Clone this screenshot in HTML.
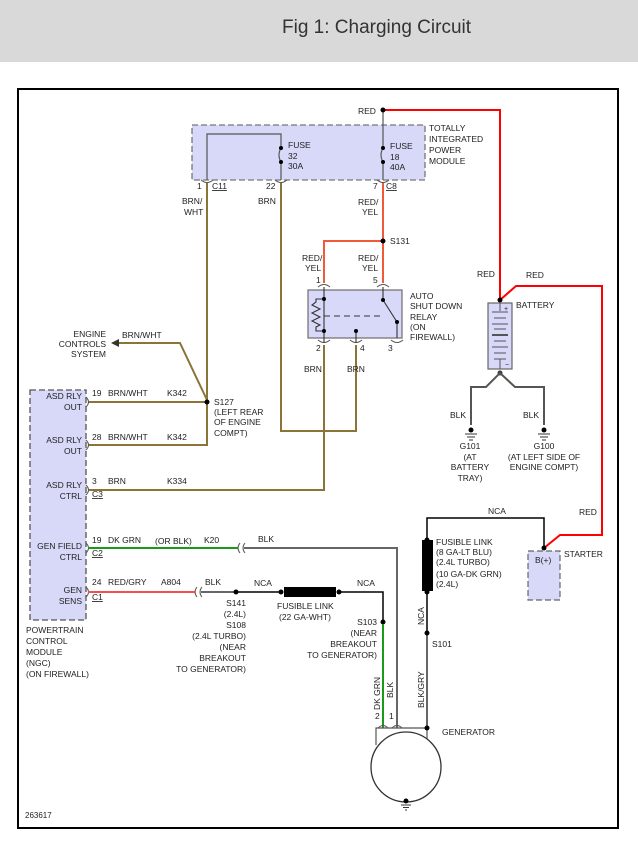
<!DOCTYPE html>
<html><head><meta charset="utf-8"><style>
html,body{margin:0;padding:0;background:#fff;}
svg{display:block;}
text{font-family:"Liberation Sans",sans-serif;font-size:8.5px;fill:#222;}
</style></head><body>
<svg width="638" height="845" viewBox="0 0 638 845" xmlns="http://www.w3.org/2000/svg">
<rect x="0" y="0" width="638" height="62" fill="#d9d9d9"/>
<text x="282" y="33" style="font-size:19px;fill:#333">Fig 1: Charging Circuit</text>
<rect x="18" y="89" width="600" height="739" fill="#fff" stroke="#000" stroke-width="2"/>

<!-- TIPM -->
<rect x="192" y="125" width="233" height="55" fill="#d8d8f8" stroke="#777" stroke-dasharray="6,3" stroke-width="1.3"/>
<polyline points="207,180 207,134 281,134 281,148" fill="none" stroke="#555" stroke-width="1.2"/>
<path d="M281,148 q-4,7 0,14 M383,148 q-4,7 0,14" fill="none" stroke="#555" stroke-width="1.2"/>
<line x1="281" y1="162" x2="281" y2="180" stroke="#555" stroke-width="1.2"/>
<line x1="383" y1="110" x2="383" y2="148" stroke="#555" stroke-width="1.2"/>
<line x1="383" y1="162" x2="383" y2="180" stroke="#555" stroke-width="1.2"/>
<circle cx="281" cy="148" r="2" fill="#000"/><circle cx="281" cy="162" r="2" fill="#000"/>
<circle cx="383" cy="148" r="2" fill="#000"/><circle cx="383" cy="162" r="2" fill="#000"/>
<path d="M201,180 q6,5 12,0 M275,180 q6,5 12,0 M377,180 q6,5 12,0 M318,287 q6,-5 12,0 M377,287 q6,-5 12,0 M318,340 q6,5 12,0 M350,340 q6,5 12,0 M391,340 q6,5 12,0" fill="none" stroke="#555" stroke-width="1"/>
<text x="288" y="148">FUSE</text><text x="288" y="159">32</text><text x="288" y="169">30A</text>
<text x="390" y="149">FUSE</text><text x="390" y="160">18</text><text x="390" y="170">40A</text>
<text x="429" y="131">TOTALLY</text><text x="429" y="142">INTEGRATED</text><text x="429" y="153">POWER</text><text x="429" y="164">MODULE</text>
<text x="197" y="189">1</text><text x="212" y="189" text-decoration="underline">C11</text>
<text x="266" y="189">22</text><text x="373" y="189">7</text><text x="386" y="189" text-decoration="underline">C8</text>

<!-- red main -->
<polyline points="383,110 500,110 500,300" fill="none" stroke="#f00" stroke-width="2"/>
<circle cx="383" cy="110" r="2.5" fill="#000"/>
<text x="358" y="114">RED</text>
<polyline points="500,300 516,286 602,286 602,535 560,535 544,548" fill="none" stroke="#f00" stroke-width="2"/>
<text x="477" y="277">RED</text><text x="526" y="278">RED</text><text x="579" y="515">RED</text>

<!-- brown wires -->
<g stroke="#8b7536" stroke-width="2" fill="none">
<polyline points="207,183 207,445 88,445"/>
<line x1="88" y1="402" x2="207" y2="402"/>
<polyline points="113,343 180,343 207,400"/>
<polyline points="281,183 281,431 356,431 356,345"/>
<polyline points="324,345 324,490 88,490"/>
</g>
<polygon points="111,343 119,339 119,347" fill="#333"/>
<circle cx="207" cy="402" r="2.5" fill="#000"/>
<text x="182" y="204">BRN/</text><text x="184" y="215">WHT</text>
<text x="258" y="204">BRN</text>
<text x="122" y="338">BRN/WHT</text>
<text x="106" y="337" text-anchor="end">ENGINE</text><text x="106" y="347" text-anchor="end">CONTROLS</text><text x="106" y="357" text-anchor="end">SYSTEM</text>
<text x="214" y="405">S127</text><text x="214" y="415">(LEFT REAR</text><text x="214" y="425">OF ENGINE</text><text x="214" y="436">COMPT)</text>
<text x="304" y="372">BRN</text><text x="347" y="372">BRN</text>

<!-- red/yel -->
<g stroke="#f05a3c" stroke-width="2" fill="none">
<line x1="383" y1="183" x2="383" y2="283"/>
<polyline points="383,241 324,241 324,283"/>
</g>
<circle cx="383" cy="241" r="2.5" fill="#000"/>
<text x="390" y="244">S131</text>
<text x="358" y="205">RED/</text><text x="362" y="215">YEL</text>
<text x="302" y="261">RED/</text><text x="305" y="271">YEL</text>
<text x="358" y="261">RED/</text><text x="362" y="271">YEL</text>
<text x="316" y="283">1</text><text x="373" y="283">5</text>

<!-- relay -->
<rect x="308" y="290" width="94" height="48" fill="#d8d8f8" stroke="#777" stroke-width="1.3"/>
<g stroke="#333" stroke-width="1.1" fill="none">
<polyline points="324,287 324,343"/>
<polyline points="324,299 316,299 316,302 312,305 320,309 312,313 320,317 312,321 320,325 316,327 316,331 324,331"/>
<line x1="324" y1="316" x2="382" y2="316" stroke-dasharray="6,4"/>
<line x1="383" y1="287" x2="383" y2="300"/><line x1="383" y1="300" x2="397" y2="322"/>
<line x1="397" y1="322" x2="397" y2="338"/><line x1="356" y1="331" x2="356" y2="343"/>
</g>
<circle cx="324" cy="299" r="2" fill="#000"/><circle cx="324" cy="331" r="2" fill="#000"/>
<circle cx="383" cy="300" r="2" fill="#000"/><circle cx="397" cy="322" r="2" fill="#000"/><circle cx="356" cy="331" r="2" fill="#000"/>
<text x="410" y="299">AUTO</text><text x="410" y="309">SHUT DOWN</text><text x="410" y="320">RELAY</text><text x="410" y="330">(ON</text><text x="410" y="340">FIREWALL)</text>
<text x="316" y="351">2</text><text x="360" y="351">4</text><text x="388" y="351">3</text>

<!-- PCM -->
<rect x="30" y="390" width="56" height="230" fill="#d8d8f8" stroke="#555" stroke-dasharray="6,3" stroke-width="1.3"/>
<path d="M86,397 q5,5 0,10 M86,440 q5,5 0,10 M86,485 q5,5 0,10 M86,543 q5,5 0,10 M86,587 q5,5 0,10" fill="none" stroke="#555" stroke-width="1"/>
<g text-anchor="end">
<text x="82" y="399">ASD RLY</text><text x="82" y="410">OUT</text>
<text x="82" y="443">ASD RLY</text><text x="82" y="454">OUT</text>
<text x="82" y="488">ASD RLY</text><text x="82" y="499">CTRL</text>
<text x="82" y="549">GEN FIELD</text><text x="82" y="560">CTRL</text>
<text x="82" y="593">GEN</text><text x="82" y="604">SENS</text>
</g>
<text x="26" y="633">POWERTRAIN</text><text x="26" y="644">CONTROL</text><text x="26" y="655">MODULE</text><text x="26" y="666">(NGC)</text><text x="26" y="677">(ON FIREWALL)</text>
<text x="92" y="396">19</text><text x="108" y="396">BRN/WHT</text><text x="167" y="396">K342</text>
<text x="92" y="440">28</text><text x="108" y="440">BRN/WHT</text><text x="167" y="440">K342</text>
<text x="92" y="484">3</text><text x="108" y="484">BRN</text><text x="167" y="484">K334</text>
<text x="92" y="497" text-decoration="underline">C3</text>
<text x="92" y="543">19</text><text x="108" y="543">DK GRN</text><text x="155" y="544">(OR BLK)</text><text x="204" y="543">K20</text>
<text x="92" y="556" text-decoration="underline">C2</text>
<text x="92" y="585">24</text><text x="108" y="585">RED/GRY</text><text x="161" y="585">A804</text>
<text x="92" y="600" text-decoration="underline">C1</text>
<line x1="88" y1="548" x2="238" y2="548" stroke="#1a9a1a" stroke-width="2"/>
<path d="M240,543 q-4,5 0,10 M245,543 q-4,5 0,10 M197,587 q-4,5 0,10 M202,587 q-4,5 0,10" fill="none" stroke="#555" stroke-width="1"/>
<polyline points="244,548 397,548 397,728" fill="none" stroke="#666" stroke-width="2"/>
<text x="258" y="542">BLK</text>
<line x1="88" y1="592" x2="196" y2="592" stroke="#f05050" stroke-width="2"/>
<line x1="201" y1="592" x2="236" y2="592" stroke="#666" stroke-width="2"/>
<text x="205" y="585">BLK</text>
<circle cx="236" cy="592" r="2.5" fill="#000"/>
<line x1="236" y1="592" x2="281" y2="592" stroke="#000" stroke-width="1.5"/>
<rect x="284" y="587" width="52" height="10" fill="#000"/>
<circle cx="281" cy="592" r="2.5" fill="#000"/><circle cx="339" cy="592" r="2.5" fill="#000"/>
<polyline points="339,592 383,592 383,622" fill="none" stroke="#000" stroke-width="1.5"/>
<text x="254" y="586">NCA</text><text x="357" y="586">NCA</text>
<text x="277" y="609">FUSIBLE LINK</text><text x="279" y="620">(22 GA-WHT)</text>
<g text-anchor="end">
<text x="246" y="606">S141</text><text x="246" y="617">(2.4L)</text><text x="246" y="628">S108</text><text x="246" y="639">(2.4L TURBO)</text><text x="246" y="650">(NEAR</text><text x="246" y="661">BREAKOUT</text><text x="246" y="672">TO GENERATOR)</text>
<text x="377" y="625">S103</text><text x="377" y="636">(NEAR</text><text x="377" y="647">BREAKOUT</text><text x="377" y="658">TO GENERATOR)</text>
</g>
<circle cx="383" cy="622" r="2.5" fill="#000"/>
<line x1="383" y1="624" x2="383" y2="728" stroke="#1a9a1a" stroke-width="2"/>
<text transform="translate(380,710) rotate(-90)">DK GRN</text>
<text transform="translate(393,698) rotate(-90)">BLK</text>
<text x="375" y="719">2</text><text x="389" y="719">1</text>

<!-- generator -->
<polyline points="376,745 376,728 427,728 427,745" fill="none" stroke="#555" stroke-width="1.2"/>
<path d="M378,728 q5,-5 10,0 M392,728 q5,-5 10,0" fill="none" stroke="#555" stroke-width="1"/>
<circle cx="406" cy="767" r="35" fill="#fff" stroke="#333" stroke-width="1.3"/>
<circle cx="406" cy="801" r="2.5" fill="#000"/>
<path d="M401,805 h10 M403,807.5 h6 M405,810 h2" stroke="#333"/>
<text x="442" y="735">GENERATOR</text>
<line x1="427" y1="633" x2="427" y2="728" stroke="#666" stroke-width="2"/>
<circle cx="427" cy="728" r="2.5" fill="#000"/>
<text transform="translate(424,708) rotate(-90)">BLK/GRY</text>
<circle cx="427" cy="633" r="2.5" fill="#000"/>
<text x="432" y="647">S101</text>
<line x1="427" y1="592" x2="427" y2="633" stroke="#000" stroke-width="1.5"/>
<text transform="translate(424,625) rotate(-90)">NCA</text>
<rect x="422" y="540" width="11" height="51" fill="#000"/>
<circle cx="427" cy="540" r="2.5" fill="#000"/><circle cx="427" cy="592" r="2.5" fill="#000"/>
<polyline points="427,540 427,518 544,518 544,548" fill="none" stroke="#000" stroke-width="1.5"/>
<text x="488" y="514">NCA</text>
<text x="436" y="545">FUSIBLE LINK</text><text x="436" y="555">(8 GA-LT BLU)</text><text x="436" y="565">(2.4L TURBO)</text><text x="436" y="577">(10 GA-DK GRN)</text><text x="436" y="587">(2.4L)</text>

<!-- starter -->
<rect x="528" y="551" width="32" height="49" fill="#d8d8f8" stroke="#666" stroke-dasharray="6,3" stroke-width="1.2"/>
<circle cx="544" cy="548" r="2.5" fill="#000"/>
<text x="535" y="563">B(+)</text><text x="564" y="557">STARTER</text>

<!-- battery -->
<rect x="488" y="303" width="24" height="66" fill="#d8d8f8" stroke="#666" stroke-width="1.2"/>
<circle cx="500" cy="300" r="2.5" fill="#000"/>
<g stroke="#555" stroke-width="1">
<line x1="500" y1="303" x2="500" y2="311"/><line x1="492" y1="312" x2="508" y2="312"/>
<line x1="494" y1="318" x2="506" y2="318"/><line x1="492" y1="324" x2="508" y2="324"/>
<line x1="494" y1="329" x2="506" y2="329"/><line x1="492" y1="335" x2="508" y2="335" stroke-width="2"/>
<line x1="494" y1="341" x2="506" y2="341"/><line x1="492" y1="347" x2="508" y2="347"/>
<line x1="494" y1="353" x2="506" y2="353"/><line x1="494" y1="359" x2="506" y2="359"/>
<line x1="500" y1="359" x2="500" y2="369"/>
</g>
<text x="504" y="311" style="font-size:7px">+</text><text x="505" y="367" style="font-size:7px">−</text>
<text x="516" y="308">BATTERY</text>
<circle cx="500" cy="373" r="2.5" fill="#333"/>
<polyline points="471,425 471,387 486,387 500,373 515,387 544,387 544,425" fill="none" stroke="#555" stroke-width="2"/>
<circle cx="471" cy="430" r="2.5" fill="#000"/><circle cx="544" cy="430" r="2.5" fill="#000"/>
<path d="M465,434 h12 M467,437 h8 M469,440 h4 M538,434 h12 M540,437 h8 M542,440 h4" stroke="#333"/>
<text x="450" y="418">BLK</text><text x="523" y="418">BLK</text>
<g text-anchor="middle">
<text x="470" y="449">G101</text><text x="470" y="460">(AT</text><text x="470" y="470">BATTERY</text><text x="470" y="481">TRAY)</text>
<text x="544" y="449">G100</text><text x="544" y="460">(AT LEFT SIDE OF</text><text x="544" y="470">ENGINE COMPT)</text>
</g>
<text x="25" y="818" style="font-size:8px">263617</text>
</svg>
</body></html>
